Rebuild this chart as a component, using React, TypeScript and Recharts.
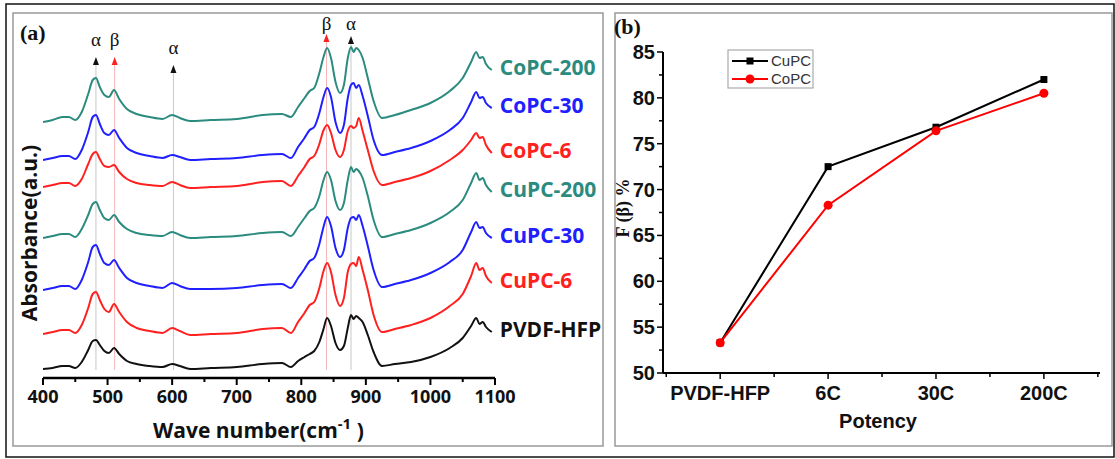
import { LineChart, Line, XAxis, YAxis, ReferenceLine, ReferenceDot } from 'recharts';

// ---- panel (a): FTIR spectra ----
const WAVENUMBERS = [
  400, 415, 430, 440, 450, 460, 470, 477, 482, 488,
  495, 502, 510, 518, 530, 545, 565, 585, 600, 612,
  628, 660, 700, 740, 770, 784, 795, 805, 813, 820,
  828, 834, 840, 846, 853, 860, 866, 872, 877, 881,
  885, 889, 895, 903, 912, 925, 945, 970, 1000, 1030,
  1050, 1063, 1071, 1076, 1081, 1086, 1095,
];

const PVDF_HFP = [
  0.09, 0.10, 0.12, 0.12, 0.10, 0.16, 0.28, 0.37, 0.38, 0.33,
  0.27, 0.25, 0.30, 0.24, 0.17, 0.14, 0.12, 0.11, 0.14, 0.12,
  0.09, 0.10, 0.11, 0.14, 0.15, 0.11, 0.17, 0.21, 0.24, 0.27,
  0.36, 0.48, 0.60, 0.52, 0.35, 0.28, 0.32, 0.50, 0.63, 0.59,
  0.62, 0.60, 0.56, 0.43, 0.26, 0.12, 0.14, 0.16, 0.21, 0.30,
  0.40, 0.52, 0.60, 0.54, 0.56, 0.51, 0.46,
];
const CUPC_6 = [
  0.44, 0.46, 0.48, 0.48, 0.45, 0.53, 0.70, 0.84, 0.86, 0.78,
  0.69, 0.66, 0.74, 0.66, 0.56, 0.50, 0.47, 0.45, 0.50, 0.47,
  0.43, 0.44, 0.45, 0.49, 0.50, 0.45, 0.56, 0.65, 0.73, 0.76,
  0.90, 1.06, 1.15, 1.06, 0.83, 0.72, 0.80, 1.06, 1.14, 1.15,
  1.12, 1.21, 1.08, 0.88, 0.63, 0.46, 0.49, 0.53, 0.60, 0.72,
  0.84, 1.02, 1.15, 1.08, 1.10, 1.02, 0.95,
];
const CUPC_30 = [
  0.88, 0.90, 0.92, 0.92, 0.89, 0.98, 1.16, 1.31, 1.33, 1.24,
  1.15, 1.13, 1.18, 1.10, 1.00, 0.95, 0.92, 0.90, 0.95, 0.92,
  0.89, 0.89, 0.90, 0.93, 0.94, 0.90, 1.00, 1.09, 1.17, 1.20,
  1.34, 1.50, 1.61, 1.52, 1.30, 1.21, 1.28, 1.50, 1.60, 1.61,
  1.58, 1.63, 1.52, 1.32, 1.08, 0.91, 0.94, 0.98, 1.05, 1.16,
  1.28, 1.46, 1.56, 1.50, 1.51, 1.45, 1.40,
];
const CUPC_200 = [
  1.40, 1.42, 1.44, 1.44, 1.41, 1.49, 1.63, 1.74, 1.76, 1.68,
  1.60, 1.58, 1.63, 1.56, 1.49, 1.45, 1.43, 1.42, 1.46, 1.43,
  1.40, 1.41, 1.42, 1.45, 1.46, 1.42, 1.51, 1.60, 1.67, 1.70,
  1.82, 1.97, 2.06, 1.98, 1.77, 1.68, 1.75, 1.98, 2.11, 2.06,
  2.09, 2.07, 2.00, 1.82, 1.58, 1.41, 1.44, 1.48, 1.55, 1.66,
  1.78, 1.95, 2.05, 1.98, 2.00, 1.93, 1.86,
];
const COPC_6 = [
  1.91, 1.93, 1.95, 1.95, 1.92, 1.99, 2.14, 2.24, 2.26, 2.19,
  2.12, 2.11, 2.13, 2.06, 1.99, 1.95, 1.93, 1.92, 1.96, 1.93,
  1.90, 1.91, 1.92, 1.96, 1.97, 1.92, 2.02, 2.11, 2.19, 2.22,
  2.34, 2.47, 2.53, 2.45, 2.28, 2.21, 2.28, 2.47, 2.52, 2.50,
  2.52, 2.60, 2.47, 2.28, 2.07, 1.93, 1.96, 2.00, 2.07, 2.18,
  2.28, 2.38, 2.45, 2.40, 2.41, 2.33, 2.25,
];
const COPC_30 = [
  2.18, 2.20, 2.22, 2.22, 2.19, 2.28, 2.46, 2.61, 2.63, 2.54,
  2.45, 2.43, 2.48, 2.40, 2.30, 2.25, 2.22, 2.20, 2.23, 2.21,
  2.18, 2.19, 2.20, 2.23, 2.24, 2.20, 2.31, 2.40, 2.48, 2.51,
  2.65, 2.80, 2.90, 2.81, 2.56, 2.45, 2.53, 2.80, 2.93, 2.95,
  2.90, 2.93, 2.82, 2.62, 2.38, 2.23, 2.26, 2.30, 2.37, 2.48,
  2.60, 2.76, 2.86, 2.80, 2.81, 2.75, 2.70,
];
const COPC_200 = [
  2.56, 2.58, 2.61, 2.61, 2.58, 2.66, 2.84, 2.98, 3.00, 2.91,
  2.83, 2.81, 2.88, 2.79, 2.69, 2.64, 2.61, 2.59, 2.63, 2.60,
  2.57, 2.58, 2.59, 2.63, 2.64, 2.61, 2.71, 2.80, 2.87, 2.90,
  3.05, 3.20, 3.30, 3.20, 2.96, 2.85, 2.93, 3.20, 3.31, 3.26,
  3.30, 3.28, 3.20, 3.00, 2.77, 2.60, 2.63, 2.68, 2.75, 2.87,
  3.00, 3.16, 3.26, 3.20, 3.21, 3.14, 3.08,
];

const SPECTRUM_NAMES = ['PVDF-HFP', 'CuPC-6', 'CuPC-30', 'CuPC-200', 'CoPC-6', 'CoPC-30', 'CoPC-200'];
const SPECTRUM_VALUES = [PVDF_HFP, CUPC_6, CUPC_30, CUPC_200, COPC_6, COPC_30, COPC_200];
const SPECTRUM_COLORS = ['#111111', '#ff2020', '#2020ff', '#2a8b7e', '#ff2020', '#2020ff', '#2a8b7e'];

const X_TICKS = [400, 450, 500, 550, 600, 650, 700, 750, 800, 850, 900, 950, 1000, 1050, 1100];

// band markers
const BAND_WAVENUMBERS = [482, 511, 602, 839, 877];
const BAND_PHASES = ['α', 'β', 'α', 'β', 'α'];
// arrow height / label offset (px) for each marker
const BAND_ARROW_Y = [3.17, 3.17, 3.09, 3.40, 3.38];
const BAND_LABEL_DY = [-20, -20, -20, -13, -15];

const spectraRows = WAVENUMBERS.map((w, i) => {
  const row: Record<string, number> = { w };
  SPECTRUM_NAMES.forEach((n, k) => {
    row[n] = SPECTRUM_VALUES[k][i];
  });
  return row;
});

// ---- panel (b): F(beta) ----
const POTENCY = ['PVDF-HFP', '6C', '30C', '200C'];
const CUPC_FBETA = [53.3, 72.5, 76.8, 82.0];
const COPC_FBETA = [53.3, 68.3, 76.4, 80.5];
const FB_TICKS = [50, 52.5, 55, 57.5, 60, 62.5, 65, 67.5, 70, 72.5, 75, 77.5, 80, 82.5, 85];
const POT_TICKS = [-0.5, 0, 0.5, 1, 1.5, 2, 2.5, 3, 3.5];

const fbetaRows = POTENCY.map((p, i) => ({ idx: i, name: p, CuPC: CUPC_FBETA[i], CoPC: COPC_FBETA[i] }));

const sans = "'Open Sans', sans-serif";
const arial = "'Liberation Sans', Arial, sans-serif";
const serif = "'Liberation Serif', 'Times New Roman', serif";

const WaveTick = (props: any) => {
  const { x, y, payload } = props;
  const major = payload.value % 100 === 0;
  return (
    <g>
      <line x1={x} x2={x} y1={y} y2={y + (major ? 7 : 4)} stroke="#000" strokeWidth={2} />
      {major && (
        <text x={x} y={y + 25} textAnchor="middle" fontFamily={sans} fontWeight={700} fontSize={18} fill="#111">
          {payload.value}
        </text>
      )}
    </g>
  );
};

const PotTick = (props: any) => {
  const { x, y, payload } = props;
  const major = Number.isInteger(payload.value);
  return (
    <g>
      <line x1={x} x2={x} y1={y} y2={y + (major ? 6 : 4)} stroke="#000" strokeWidth={1.5} />
      {major && (
        <text x={x} y={y + 27} textAnchor="middle" fontFamily={arial} fontWeight={700} fontSize={20} fill="#111">
          {POTENCY[payload.value]}
        </text>
      )}
    </g>
  );
};

const FbTick = (props: any) => {
  const { x, y, payload } = props;
  const major = payload.value % 5 === 0;
  return (
    <g>
      <line x1={x} x2={x - (major ? 6 : 4)} y1={y} y2={y} stroke="#000" strokeWidth={1.5} />
      {major && (
        <text x={x - 8} y={y + 7} textAnchor="end" fontFamily={arial} fontWeight={700} fontSize={20} fill="#111">
          {payload.value}
        </text>
      )}
    </g>
  );
};

const SquareDot = (props: any) => {
  const { cx, cy, index } = props;
  return <rect key={`sq-${index}`} x={cx - 3.5} y={cy - 3.5} width={7} height={7} fill="#000" />;
};

const RoundDot = (props: any) => {
  const { cx, cy, index } = props;
  return <circle key={`ci-${index}`} cx={cx} cy={cy} r={4.5} fill="#ff0000" />;
};

export default function App() {
  const last = WAVENUMBERS.length - 1;
  return (
    <div style={{ position: 'absolute', left: 0, top: 0, width: 1115, height: 459, background: '#fff' }}>
      <div style={{ position: 'absolute', left: 0, top: 0 }}>
        <LineChart width={620} height={459} data={spectraRows} margin={{ top: 20, right: 125, bottom: 51, left: 43 }}>
          <XAxis
            dataKey="w"
            type="number"
            domain={[400, 1100]}
            ticks={X_TICKS}
            interval={0}
            height={30}
            tickSize={0}
            tickMargin={0}
            tick={<WaveTick />}
            axisLine={{ stroke: '#000', strokeWidth: 2.5 }}
            allowDataOverflow
          />
          <YAxis hide domain={[0, 3.58]} type="number" allowDataOverflow />
          {BAND_WAVENUMBERS.map((w, i) => (
            <ReferenceLine
              key={`bl-${i}`}
              segment={[{ x: w, y: 0.08 }, { x: w, y: BAND_ARROW_Y[i] }]}
              stroke={BAND_PHASES[i] === 'β' ? '#f5b5b5' : '#c8c8c8'}
              strokeWidth={1}
            />
          ))}
          {SPECTRUM_NAMES.map((n, k) => (
            <Line
              key={n}
              dataKey={n}
              type="monotone"
              stroke={SPECTRUM_COLORS[k]}
              strokeWidth={2}
              dot={false}
              activeDot={false}
              isAnimationActive={false}
            />
          ))}
          {BAND_WAVENUMBERS.map((w, i) => (
            <ReferenceDot
              key={`bd-${i}`}
              x={w}
              y={BAND_ARROW_Y[i]}
              r={0}
              shape={(p: any) => (
                <g>
                  <path
                    d={`M${p.cx},${p.cy - 4} L${p.cx + 3},${p.cy + 4} L${p.cx - 3},${p.cy + 4} Z`}
                    fill={BAND_PHASES[i] === 'β' ? '#ff2020' : '#111'}
                  />
                  <text
                    x={p.cx}
                    y={p.cy + BAND_LABEL_DY[i] + 5}
                    textAnchor="middle"
                    fontFamily={serif}
                    fontSize={19}
                    fill="#111"
                  >
                    {BAND_PHASES[i]}
                  </text>
                </g>
              )}
            />
          ))}
          {SPECTRUM_NAMES.map((n, k) => (
            <ReferenceDot
              key={`lab-${n}`}
              x={WAVENUMBERS[last]}
              y={SPECTRUM_VALUES[k][last]}
              r={0}
              shape={(p: any) => (
                <text
                  x={p.cx + 8}
                  y={p.cy + 5}
                  fontFamily={sans}
                  fontWeight={700}
                  fontSize={21}
                  fill={SPECTRUM_COLORS[k]}
                >
                  {n}
                </text>
              )}
            />
          ))}
        </LineChart>
      </div>

      <div style={{ position: 'absolute', left: 610, top: 0 }}>
        <LineChart width={505} height={459} data={fbetaRows} margin={{ top: 52, right: 15, bottom: 56, left: 13 }}>
          <XAxis
            dataKey="idx"
            type="number"
            domain={[-0.53, 3.52]}
            ticks={POT_TICKS}
            interval={0}
            height={30}
            tickSize={0}
            tickMargin={0}
            tick={<PotTick />}
            axisLine={{ stroke: '#000', strokeWidth: 2 }}
            allowDataOverflow
          />
          <YAxis
            type="number"
            domain={[50, 85]}
            ticks={FB_TICKS}
            interval={0}
            width={40}
            tickSize={0}
            tickMargin={0}
            tick={<FbTick />}
            axisLine={{ stroke: '#000', strokeWidth: 2 }}
            allowDataOverflow
          />
          <Line
            dataKey="CuPC"
            type="linear"
            stroke="#000"
            strokeWidth={2}
            dot={<SquareDot />}
            activeDot={false}
            isAnimationActive={false}
          />
          <Line
            dataKey="CoPC"
            type="linear"
            stroke="#ff0000"
            strokeWidth={2}
            dot={<RoundDot />}
            activeDot={false}
            isAnimationActive={false}
          />
        </LineChart>
      </div>

      <svg width={1115} height={459} style={{ position: 'absolute', left: 0, top: 0, pointerEvents: 'none' }}>
        <rect x={6} y={4} width={1108} height={453} fill="none" stroke="#111" strokeWidth={1.5} />
        <rect x={13} y={13} width={590} height={433} fill="none" stroke="#999" strokeWidth={1.5} />
        <rect x={615} y={13} width={497} height={433} fill="none" stroke="#999" strokeWidth={1.5} />

        <text x={20} y={40} fontFamily={serif} fontWeight={700} fontSize={22} fill="#111">(a)</text>
        <text x={614} y={34} fontFamily={serif} fontWeight={700} fontSize={22} fill="#111">(b)</text>

        <text
          transform="translate(37,233) rotate(-90)"
          textAnchor="middle"
          fontFamily={sans}
          fontWeight={700}
          fontSize={21}
          fill="#111"
        >
          Absorbance(a.u.)
        </text>
        <text x={153} y={438} fontFamily={sans} fontWeight={700} fontSize={21} fill="#111">
          Wave number(cm
          <tspan dy={-9} fontSize={15}>-1</tspan>
          <tspan dy={9}> )</tspan>
        </text>

        <text x={878} y={428} textAnchor="middle" fontFamily={arial} fontWeight={700} fontSize={20} fill="#111">
          Potency
        </text>
        <text
          transform="translate(629,208) rotate(-90)"
          textAnchor="middle"
          fontFamily={serif}
          fontWeight={700}
          fontSize={18}
          fill="#111"
        >
          F (β) %
        </text>

        <rect x={728} y={50} width={85} height={38} fill="#fff" stroke="#aaa" strokeWidth={1.2} />
        <line x1={732} x2={768} y1={61} y2={61} stroke="#000" strokeWidth={2} />
        <rect x={746.5} y={57.5} width={7} height={7} fill="#000" />
        <text x={771} y={66} fontFamily={arial} fontSize={15} fill="#333">CuPC</text>
        <line x1={732} x2={768} y1={79} y2={79} stroke="#ff0000" strokeWidth={2} />
        <circle cx={750} cy={79} r={4.5} fill="#ff0000" />
        <text x={771} y={84} fontFamily={arial} fontSize={15} fill="#333">CoPC</text>
      </svg>
    </div>
  );
}
